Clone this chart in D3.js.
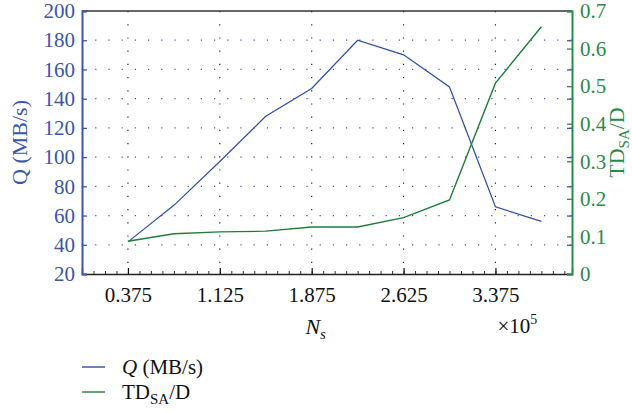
<!DOCTYPE html>
<html>
<head>
<meta charset="utf-8">
<script src="https://cdn.jsdelivr.net/npm/d3@7"></script>
<style>
  body { margin: 0; background: #fff; }
</style>
</head>
<body>
<div id="chart"></div>
<script>
// values (x in units of 1e5)
var ns = [0.375, 0.75, 1.125, 1.5, 1.875, 2.25, 2.625, 3.0, 3.375, 3.75];
var qValues = [42, 67, 97, 128, 147, 180, 170, 148, 66, 56];
var tdValues = [0.087, 0.107, 0.112, 0.114, 0.125, 0.125, 0.15, 0.197, 0.508, 0.658];
var xTicks = [0.375, 1.125, 1.875, 2.625, 3.375];
var qTicks = [20, 40, 60, 80, 100, 120, 140, 160, 180, 200];
var tdTicks = [0, 0.1, 0.2, 0.3, 0.4, 0.5, 0.6, 0.7];

var serif = "'Liberation Serif', 'DejaVu Serif', 'Times New Roman', serif";
var blue = "#3a56a6", green = "#2a8a48";
var lineBlue = "#2f4ea3", lineGreen = "#1f7d3a";

var margin = {top: 11, right: 60, bottom: 139, left: 82},
    width = 632 - margin.left - margin.right,
    height = 413 - margin.top - margin.bottom;

var svg = d3.select("#chart")
  .append("svg")
    .attr("width", 632)
    .attr("height", 413)
    .style("font-family", serif)
  .append("g")
    .attr("transform", "translate(" + margin.left + "," + margin.top + ")");

var x = d3.scaleLinear().domain([0, 4]).range([0, width]);
var yQ = d3.scaleLinear().domain([20, 200]).range([height, 0]);
var yT = d3.scaleLinear().domain([0, 0.7]).range([height, 0]);

// dotted grid
svg.selectAll(".hgrid")
  .data(qTicks.slice(1, -1))
  .enter().append("line")
    .attr("x1", 0).attr("x2", width)
    .attr("y1", function(d) { return yQ(d); })
    .attr("y2", function(d) { return yQ(d); })
    .attr("stroke", blue)
    .attr("stroke-width", 1.2)
    .attr("stroke-dasharray", "1.2,12");
svg.selectAll(".vgrid")
  .data(xTicks)
  .enter().append("line")
    .attr("x1", function(d) { return x(d); })
    .attr("x2", function(d) { return x(d); })
    .attr("y1", 0).attr("y2", height)
    .attr("stroke", "#222")
    .attr("stroke-width", 1.2)
    .attr("stroke-dasharray", "1.2,12");

// minor ticks on bottom axis, every 0.75/8 starting at 0.375
var minor = d3.range(0.375 - 3 * 0.09375, 4, 0.09375).filter(function(d) { return d > 0.01; });

var xAxis = svg.append("g")
  .attr("transform", "translate(0," + height + ")")
  .call(d3.axisBottom(x).tickValues(minor).tickSize(-3).tickFormat(""));
xAxis.select(".domain").remove();
xAxis.selectAll("line").attr("stroke", "#333");

var xAxisMajor = svg.append("g")
  .attr("transform", "translate(0," + height + ")")
  .call(d3.axisBottom(x).tickValues(xTicks).tickSize(-6).tickPadding(13)
    .tickFormat(d3.format(".3f")));
xAxisMajor.select(".domain").attr("stroke", "#222").attr("stroke-width", 1.3);
xAxisMajor.selectAll("line").attr("stroke", "#111").attr("stroke-width", 1.2);
xAxisMajor.selectAll("text").attr("fill", "#111").style("font-size", "21px");

// top border
svg.append("line")
  .attr("x1", 0).attr("x2", width).attr("y1", 0).attr("y2", 0)
  .attr("stroke", "#333").attr("stroke-width", 1.3);

// left axis (Q)
var yAxisL = svg.append("g")
  .call(d3.axisLeft(yQ).tickValues(qTicks).tickSize(-5).tickPadding(7));
yAxisL.select(".domain").attr("stroke", blue).attr("stroke-width", 2);
yAxisL.selectAll("line").attr("stroke", blue).attr("stroke-width", 1.3);
yAxisL.selectAll("text").attr("fill", blue).style("font-size", "21px");

// blue ticks on the right side
svg.append("g")
  .attr("transform", "translate(" + width + ",0)")
  .call(d3.axisRight(yQ).tickValues(qTicks).tickSize(-5).tickFormat(""))
  .call(function(g) { g.select(".domain").remove(); })
  .selectAll("line").attr("stroke", blue).attr("stroke-width", 1.3);

// right axis (TD)
var yAxisR = svg.append("g")
  .attr("transform", "translate(" + width + ",0)")
  .call(d3.axisRight(yT).tickValues(tdTicks).tickSize(-5).tickPadding(8)
    .tickFormat(function(d) { return d === 0 ? "0" : d3.format(".1f")(d); }));
yAxisR.select(".domain").attr("stroke", green).attr("stroke-width", 2);
yAxisR.selectAll("line").attr("stroke", green).attr("stroke-width", 1.3);
yAxisR.selectAll("text").attr("fill", green).style("font-size", "21px");

// lines
var qLine = d3.line()
  .x(function(d, i) { return x(ns[i]); })
  .y(function(d) { return yQ(d); });
var tdLine = d3.line()
  .x(function(d, i) { return x(ns[i]); })
  .y(function(d) { return yT(d); });

svg.append("path")
  .datum(qValues)
  .attr("d", qLine)
  .attr("fill", "none")
  .attr("stroke", lineBlue)
  .attr("stroke-width", 1.2);
svg.append("path")
  .datum(tdValues)
  .attr("d", tdLine)
  .attr("fill", "none")
  .attr("stroke", lineGreen)
  .attr("stroke-width", 1.4);

// axis titles
svg.append("text")
  .attr("transform", "translate(-55," + (height / 2) + ") rotate(-90)")
  .attr("text-anchor", "middle")
  .attr("fill", blue)
  .style("font-size", "22px")
  .text("Q (MB/s)");

svg.append("text")
  .attr("transform", "translate(" + (width + 52) + "," + (height / 2) + ") rotate(-90)")
  .attr("text-anchor", "middle")
  .attr("fill", green)
  .style("font-size", "22px")
  .html('TD<tspan dy="5" font-size="15px">SA</tspan><tspan dy="-5">/D</tspan>');

svg.append("text")
  .attr("x", x(1.875) + 4)
  .attr("y", height + 60)
  .attr("text-anchor", "middle")
  .attr("fill", "#111")
  .style("font-size", "22px")
  .html('<tspan font-style="italic">N</tspan><tspan dy="5" font-size="15px" font-style="italic">s</tspan>');

svg.append("text")
  .attr("x", x(3.375) + 2)
  .attr("y", height + 59)
  .attr("fill", "#111")
  .style("font-size", "21px")
  .html('×10<tspan dy="-9" font-size="14px">5</tspan>');

// legend
var legend = [
  {label: '<tspan font-style="italic">Q</tspan> (MB/s)', color: lineBlue},
  {label: 'TD<tspan dy="5" font-size="15px">SA</tspan><tspan dy="-5">/D</tspan>', color: lineGreen}
];
var lg = svg.selectAll(".legend")
  .data(legend)
  .enter().append("g")
    .attr("transform", function(d, i) { return "translate(0," + (height + 93 + i * 25) + ")"; });
lg.append("line")
  .attr("x1", 0).attr("x2", 23).attr("y1", 0).attr("y2", 0)
  .attr("stroke", function(d) { return d.color; })
  .attr("stroke-width", 1.4);
lg.append("text")
  .attr("x", 40)
  .attr("y", 7)
  .attr("fill", "#111")
  .style("font-size", "21px")
  .html(function(d) { return d.label; });

// make sure every label uses the serif face (axis groups set sans-serif)
d3.selectAll("text").style("font-family", serif);
</script>
</body>
</html>
